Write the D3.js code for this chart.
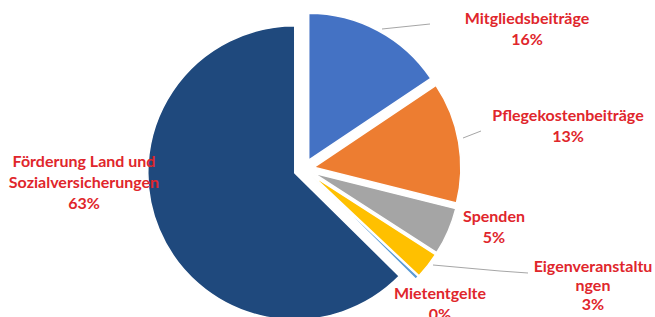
<!DOCTYPE html>
<html>
<head>
<meta charset="utf-8">
<script src="https://cdn.jsdelivr.net/npm/d3@7"></script>
<style>
  body { margin: 0; background: #fff; }
  .lbl { font-family: Lato, "Open Sans", sans-serif; font-weight: bold; font-size: 16px; fill: #e0262c; }
</style>
</head>
<body>
<div id="chart-area"></div>
<script>
var width = 655,
    height = 317;

// slices, clockwise from 12 o'clock
var categories = ["Mitgliedsbeiträge", "Pflegekostenbeiträge", "Spenden", "Eigenveranstaltungen", "Mietentgelte", "Förderung Land und Sozialversicherungen"];
var shares = [15.6, 13.3, 5.2, 2.9, 0.4, 62.6];
var pctLabels = ["16%", "13%", "5%", "3%", "0%", "63%"];
// label text as it is wrapped in the picture
var labelLines = [
  ["Mitgliedsbeiträge", "16%"],
  ["Pflegekostenbeiträge", "13%"],
  ["Spenden", "5%"],
  ["Eigenveranstaltu", "ngen", "3%"],
  ["Mietentgelte", "0%"],
  ["Förderung Land und", "Sozialversicherungen", "63%"]
];
var colors = ["#4472c4", "#ed7d31", "#a5a5a5", "#ffc000", "#5b9bd5", "#1f497d"];

var cx = 304, cy = 169, radius = 147, explode = 10;

var svg = d3.select("#chart-area").append("svg")
    .attr("width", width)
    .attr("height", height);

var pie = d3.pie().sort(null).value(d => d);
var arcs = pie(shares);
var arc = d3.arc().innerRadius(0).outerRadius(radius);

var g = svg.append("g").attr("transform", "translate(" + cx + "," + cy + ")");

g.selectAll("path")
  .data(arcs)
  .enter()
  .append("path")
  .attr("d", arc)
  .attr("fill", (d, i) => colors[i])
  .attr("stroke", "#fff")
  .attr("stroke-width", 1.5)
  .attr("transform", function(d) {
    var a = (d.startAngle + d.endAngle) / 2;
    return "translate(" + (explode * Math.sin(a)) + "," + (-explode * Math.cos(a)) + ")";
  });

// leader lines (start on the slice edge, end near the label)
var leaders = [
  [[382, 29], [430, 24]],
  [[463, 138], [481, 131]],
  [[433, 265], [500, 271], [528, 273]]
];
svg.selectAll(".leader")
  .data(leaders)
  .enter()
  .append("path")
  .attr("class", "leader")
  .attr("d", d3.line())
  .attr("fill", "none")
  .attr("stroke", "#a6a6a6")
  .attr("stroke-width", 1);

// label anchor (centre x, first baseline y)
var labelPos = [[527, 24], [568, 121], [494, 222], [593, 272], [440, 299], [84, 167]];
var lineH = 21;

var lbl = svg.selectAll(".lbl")
  .data(labelLines)
  .enter()
  .append("text")
  .attr("class", "lbl")
  .attr("text-anchor", "middle")
  .attr("x", (d, i) => labelPos[i][0])
  .attr("y", (d, i) => labelPos[i][1]);

lbl.selectAll("tspan")
  .data((d, i) => d.map(t => ({t: t, i: i})))
  .enter()
  .append("tspan")
  .attr("x", d => labelPos[d.i][0])
  .attr("dy", (d, j) => j == 0 ? 0 : (d.i == 3 ? 19 : lineH))
  .text(d => d.t);
</script>
</body>
</html>
